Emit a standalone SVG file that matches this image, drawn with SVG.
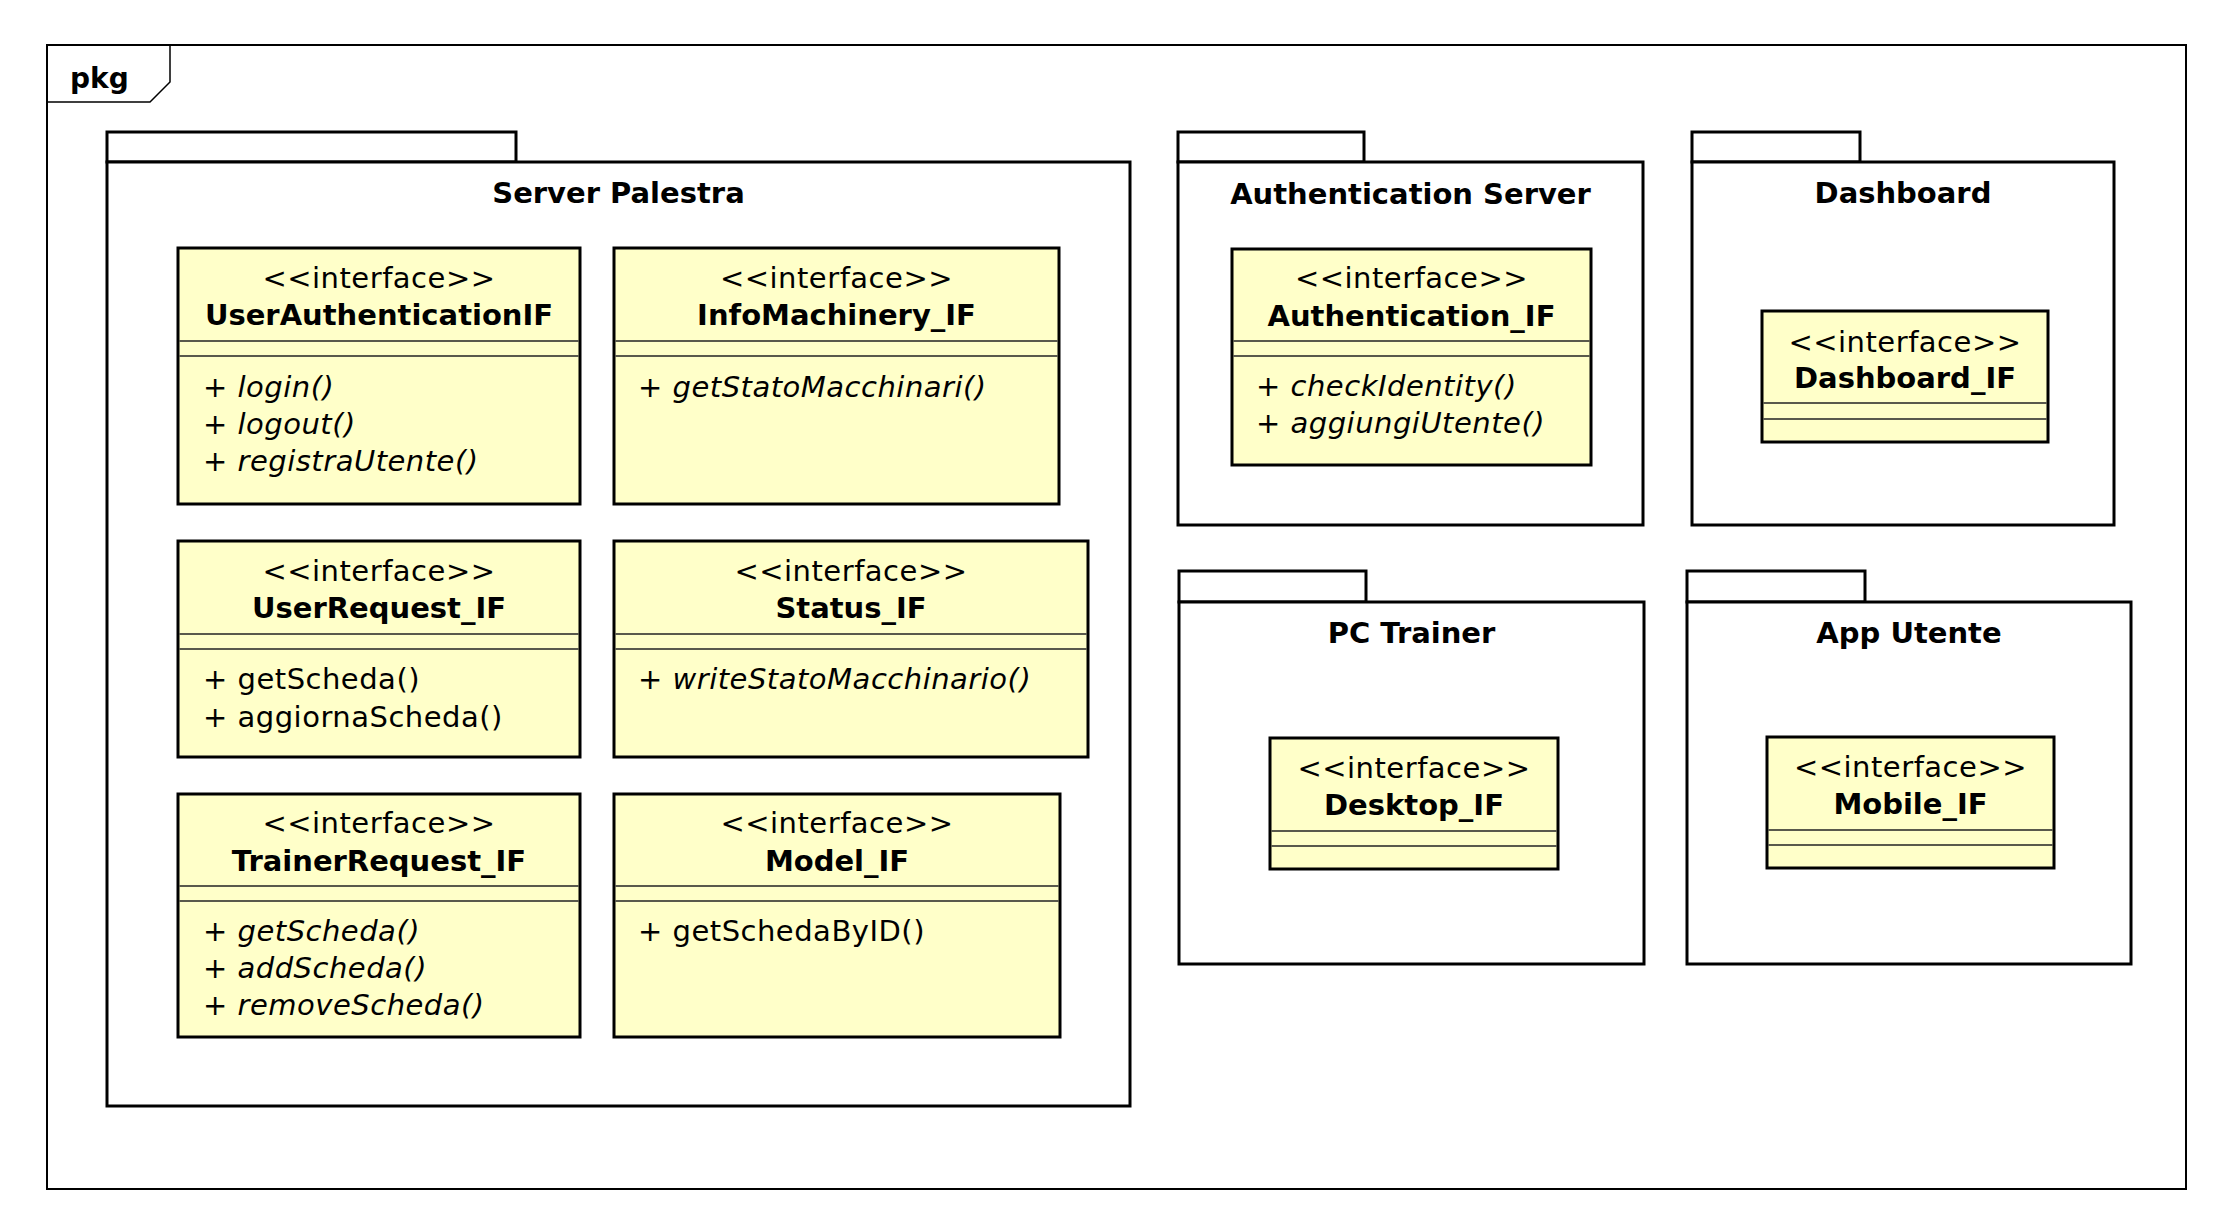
<svg xmlns="http://www.w3.org/2000/svg" width="2234" height="1232" viewBox="0 0 2234 1232">
  <style>
    text { font-family: "DejaVu Sans", "Liberation Sans", sans-serif; fill: #000; }
    .frame { fill: #fff; stroke: #000; stroke-width: 2; }
    .frametab { fill: none; stroke: #000; stroke-width: 1.5; }
    .pkg { fill: #fff; stroke: #000; stroke-width: 3; }
    .cls { fill: #ffffc9; stroke: #000; stroke-width: 3; }
    .sep { stroke: #222; stroke-width: 1.6; }
    .title { font-size: 29px; font-weight: bold; text-anchor: middle; }
    .stereo { font-size: 29px; letter-spacing: 0.5px; text-anchor: middle; }
    .name { font-size: 29px; font-weight: bold; text-anchor: middle; }
    .op { font-size: 29px; letter-spacing: 0.5px; }
    .abs { font-style: italic; }
  </style>

  <!-- outer package frame -->
  <g id="frame">
    <rect class="frame" x="47" y="45" width="2139" height="1144"/>
    <path class="frametab" d="M47,102 H150 L170,82 V45"/>
    <text x="70" y="88" style="font-size:28px;font-weight:bold">pkg</text>
  </g>

  <!-- package: Server Palestra -->
  <g id="pkg-server-palestra">
    <rect class="pkg" x="107" y="132" width="409" height="30"/>
    <rect class="pkg" x="107" y="162" width="1023" height="944"/>
    <text class="title" x="618.5" y="203">Server Palestra</text>
  </g>

  <g id="UserAuthenticationIF">
    <rect class="cls" x="178" y="248" width="402" height="256"/>
    <text class="stereo" x="379" y="288">&lt;&lt;interface&gt;&gt;</text>
    <text class="name" x="379" y="325">UserAuthenticationIF</text>
    <line class="sep" x1="179.5" y1="341" x2="578.5" y2="341"/>
    <line class="sep" x1="179.5" y1="356" x2="578.5" y2="356"/>
    <text class="op abs" x="203" y="397">+ login()</text>
    <text class="op abs" x="203" y="434">+ logout()</text>
    <text class="op abs" x="203" y="471">+ registraUtente()</text>
  </g>

  <g id="InfoMachinery_IF">
    <rect class="cls" x="614" y="248" width="445" height="256"/>
    <text class="stereo" x="836.5" y="288">&lt;&lt;interface&gt;&gt;</text>
    <text class="name" x="836.5" y="325">InfoMachinery_IF</text>
    <line class="sep" x1="615.5" y1="341" x2="1057.5" y2="341"/>
    <line class="sep" x1="615.5" y1="356" x2="1057.5" y2="356"/>
    <text class="op abs" x="638" y="397">+ getStatoMacchinari()</text>
  </g>

  <g id="UserRequest_IF">
    <rect class="cls" x="178" y="541" width="402" height="216"/>
    <text class="stereo" x="379" y="581">&lt;&lt;interface&gt;&gt;</text>
    <text class="name" x="379" y="618">UserRequest_IF</text>
    <line class="sep" x1="179.5" y1="634" x2="578.5" y2="634"/>
    <line class="sep" x1="179.5" y1="649" x2="578.5" y2="649"/>
    <text class="op" x="203" y="689">+ getScheda()</text>
    <text class="op" x="203" y="727">+ aggiornaScheda()</text>
  </g>

  <g id="Status_IF">
    <rect class="cls" x="614" y="541" width="474" height="216"/>
    <text class="stereo" x="851" y="581">&lt;&lt;interface&gt;&gt;</text>
    <text class="name" x="851" y="618">Status_IF</text>
    <line class="sep" x1="615.5" y1="634" x2="1086.5" y2="634"/>
    <line class="sep" x1="615.5" y1="649" x2="1086.5" y2="649"/>
    <text class="op abs" x="638" y="689">+ writeStatoMacchinario()</text>
  </g>

  <g id="TrainerRequest_IF">
    <rect class="cls" x="178" y="794" width="402" height="243"/>
    <text class="stereo" x="379" y="833">&lt;&lt;interface&gt;&gt;</text>
    <text class="name" x="379" y="871">TrainerRequest_IF</text>
    <line class="sep" x1="179.5" y1="886" x2="578.5" y2="886"/>
    <line class="sep" x1="179.5" y1="901" x2="578.5" y2="901"/>
    <text class="op abs" x="203" y="941">+ getScheda()</text>
    <text class="op abs" x="203" y="978">+ addScheda()</text>
    <text class="op abs" x="203" y="1015">+ removeScheda()</text>
  </g>

  <g id="Model_IF">
    <rect class="cls" x="614" y="794" width="446" height="243"/>
    <text class="stereo" x="837" y="833">&lt;&lt;interface&gt;&gt;</text>
    <text class="name" x="837" y="871">Model_IF</text>
    <line class="sep" x1="615.5" y1="886" x2="1058.5" y2="886"/>
    <line class="sep" x1="615.5" y1="901" x2="1058.5" y2="901"/>
    <text class="op" x="638" y="941">+ getSchedaByID()</text>
  </g>

  <!-- package: Authentication Server -->
  <g id="pkg-authentication-server">
    <rect class="pkg" x="1178" y="132" width="186" height="30"/>
    <rect class="pkg" x="1178" y="162" width="465" height="363"/>
    <text class="title" x="1410.5" y="204">Authentication Server</text>
  </g>

  <g id="Authentication_IF">
    <rect class="cls" x="1232" y="249" width="359" height="216"/>
    <text class="stereo" x="1411.5" y="288">&lt;&lt;interface&gt;&gt;</text>
    <text class="name" x="1411.5" y="326">Authentication_IF</text>
    <line class="sep" x1="1233.5" y1="341" x2="1589.5" y2="341"/>
    <line class="sep" x1="1233.5" y1="356" x2="1589.5" y2="356"/>
    <text class="op abs" x="1256" y="396">+ checkIdentity()</text>
    <text class="op abs" x="1256" y="433">+ aggiungiUtente()</text>
  </g>

  <!-- package: Dashboard -->
  <g id="pkg-dashboard">
    <rect class="pkg" x="1692" y="132" width="168" height="30"/>
    <rect class="pkg" x="1692" y="162" width="422" height="363"/>
    <text class="title" x="1903" y="203">Dashboard</text>
  </g>

  <g id="Dashboard_IF">
    <rect class="cls" x="1762" y="311" width="286" height="131"/>
    <text class="stereo" x="1905" y="352">&lt;&lt;interface&gt;&gt;</text>
    <text class="name" x="1905" y="388">Dashboard_IF</text>
    <line class="sep" x1="1763.5" y1="403" x2="2046.5" y2="403"/>
    <line class="sep" x1="1763.5" y1="419" x2="2046.5" y2="419"/>
  </g>

  <!-- package: PC Trainer -->
  <g id="pkg-pc-trainer">
    <rect class="pkg" x="1179" y="571" width="187" height="31"/>
    <rect class="pkg" x="1179" y="602" width="465" height="362"/>
    <text class="title" x="1411.5" y="643">PC Trainer</text>
  </g>

  <g id="Desktop_IF">
    <rect class="cls" x="1270" y="738" width="288" height="131"/>
    <text class="stereo" x="1414" y="778">&lt;&lt;interface&gt;&gt;</text>
    <text class="name" x="1414" y="815">Desktop_IF</text>
    <line class="sep" x1="1271.5" y1="831" x2="1556.5" y2="831"/>
    <line class="sep" x1="1271.5" y1="846" x2="1556.5" y2="846"/>
  </g>

  <!-- package: App Utente -->
  <g id="pkg-app-utente">
    <rect class="pkg" x="1687" y="571" width="178" height="31"/>
    <rect class="pkg" x="1687" y="602" width="444" height="362"/>
    <text class="title" x="1909" y="643">App Utente</text>
  </g>

  <g id="Mobile_IF">
    <rect class="cls" x="1767" y="737" width="287" height="131"/>
    <text class="stereo" x="1910.5" y="777">&lt;&lt;interface&gt;&gt;</text>
    <text class="name" x="1910.5" y="814">Mobile_IF</text>
    <line class="sep" x1="1768.5" y1="830" x2="2052.5" y2="830"/>
    <line class="sep" x1="1768.5" y1="845" x2="2052.5" y2="845"/>
  </g>
</svg>
